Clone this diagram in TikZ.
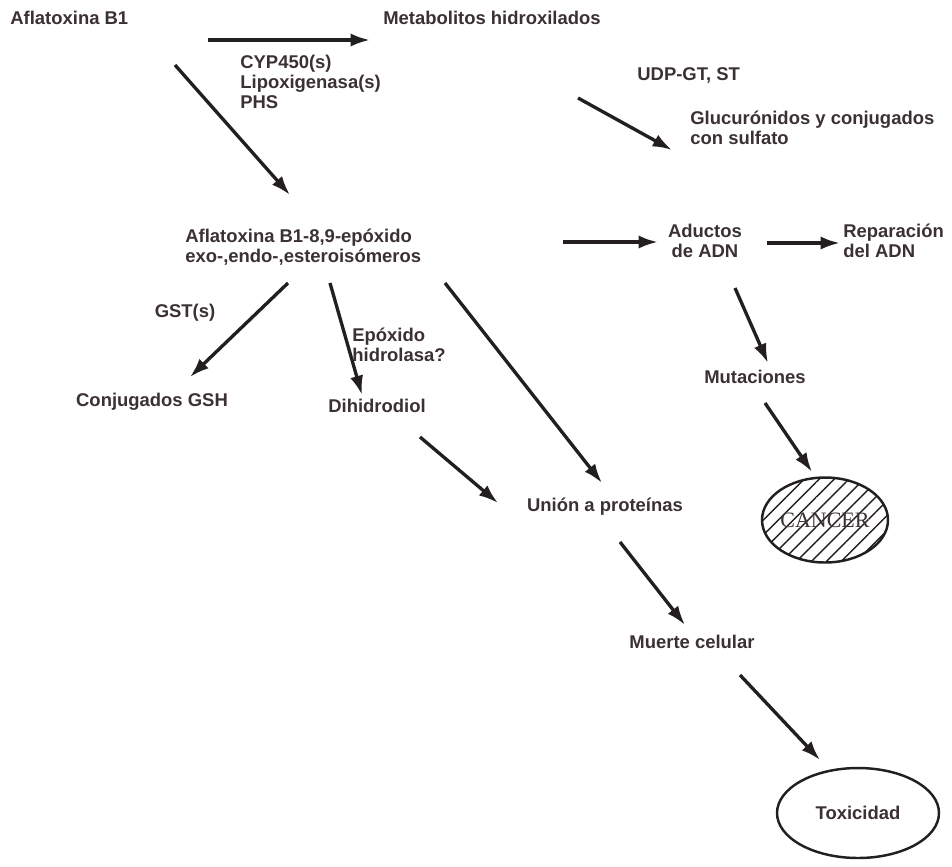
\documentclass[tikz,border=0pt]{standalone}
\usepackage{fontspec}
\setmainfont{Liberation Sans}
\newfontfamily\cancerfont{Liberation Serif}
\usetikzlibrary{arrows.meta,calc,shapes.geometric,patterns.meta}
\definecolor{txtgray}{RGB}{58,48,54}
\definecolor{inkline}{RGB}{35,31,32}

\begin{document}
\begin{tikzpicture}[x=0.02cm,y=-0.02cm,
    lbl/.style={font=\bfseries\fontsize{10.5}{11.5}\selectfont,text=txtgray,inner sep=0pt},
    arr/.style={draw=inkline,line width=1.9pt,-{Latex[length=11pt,width=7.5pt]}},
    oval/.style={ellipse,draw=inkline,line width=1.4pt,inner sep=0pt}]
    \useasboundingbox (0,0) rectangle (952,866);
    \node[lbl,anchor=west] (afla) at (10,18) {Aflatoxina B1};
    \node[lbl,anchor=west] (metab) at (383,18) {Metabolitos hidroxilados};
    \node[lbl,anchor=west,align=left] (enz) at (240,82) {CYP450(s)\\Lipoxigenasa(s)\\PHS};
    \node[lbl,anchor=west] (udp) at (637,75) {UDP-GT, ST};
    \node[lbl,anchor=west,align=left] (gluc) at (690,128) {Glucurónidos y conjugados\\con sulfato};
    \node[lbl,anchor=west,align=left] (epox) at (185,247) {Aflatoxina B1-8,9-epóxido\\exo-,endo-,esteroisómeros};
    \node[lbl,align=center] (aduc) at (705,241) {Aductos\\de ADN};
    \node[lbl,anchor=west,align=left] (repar) at (843,241) {Reparación\\del ADN};
    \node[lbl] (gst) at (185,313) {GST(s)};
    \node[lbl,anchor=west,align=left] (hidro) at (352,345) {Epóxido\\hidrolasa?};
    \node[lbl] (conj) at (152,402) {Conjugados GSH};
    \node[lbl] (dihid) at (377,406) {Dihidrodiol};
    \node[lbl] (mutac) at (755,377) {Mutaciones};
    \node[lbl] (union) at (605,507) {Unión a proteínas};
    \node[lbl] (muerte) at (692,642) {Muerte celular};
    \node[oval,minimum width=2.5cm,minimum height=1.7cm,
        pattern={Lines[angle=45,distance=6pt,line width=0.8pt]},pattern color=inkline,
        font=\cancerfont\fontsize{12.5}{14}\selectfont,text=txtgray] (cancer) at (825,520) {CANCER};
    \node[oval,minimum width=3.24cm,minimum height=1.8cm,lbl] (toxic) at (858,813) {Toxicidad};
    \draw[arr] ($(afla.west)+(198,22)$) -- ($(metab.west)+(-13,22)$);
    \draw[arr] ($(afla.west)+(165,47)$) -- ($(epox.west)+(105,-52)$);
    \draw[arr] ($(metab.west)+(195,80)$) -- ($(gluc.west)+(-18,22)$);
    \draw[arr] ($(epox.west)+(378,-5)$) -- ($(aduc)+(-47,1)$);
    \draw[arr] ($(aduc)+(62,2)$) -- ($(repar.west)+(-3,2)$);
    \draw[arr] ($(epox.west)+(103,36)$) -- ($(conj)+(38,-25)$);
    \draw[arr] ($(epox.west)+(145,36)$) -- ($(dihid)+(-15,-11)$);
    \draw[arr] ($(epox.west)+(260,36)$) -- ($(union)+(-3,-24)$);
    \draw[arr] ($(dihid)+(43,31)$) -- ($(union)+(-107,-4)$);
    \draw[arr] ($(aduc)+(30,47)$) -- ($(mutac)+(13,-14)$);
    \draw[arr] ($(mutac)+(10,26)$) -- ($(cancer)+(-13,-48)$);
    \draw[arr] ($(union)+(15,35)$) -- ($(muerte)+(-7,-17)$);
    \draw[arr] ($(muerte)+(48,33)$) -- ($(toxic)+(-38,-53)$);
\end{tikzpicture}
\end{document}
